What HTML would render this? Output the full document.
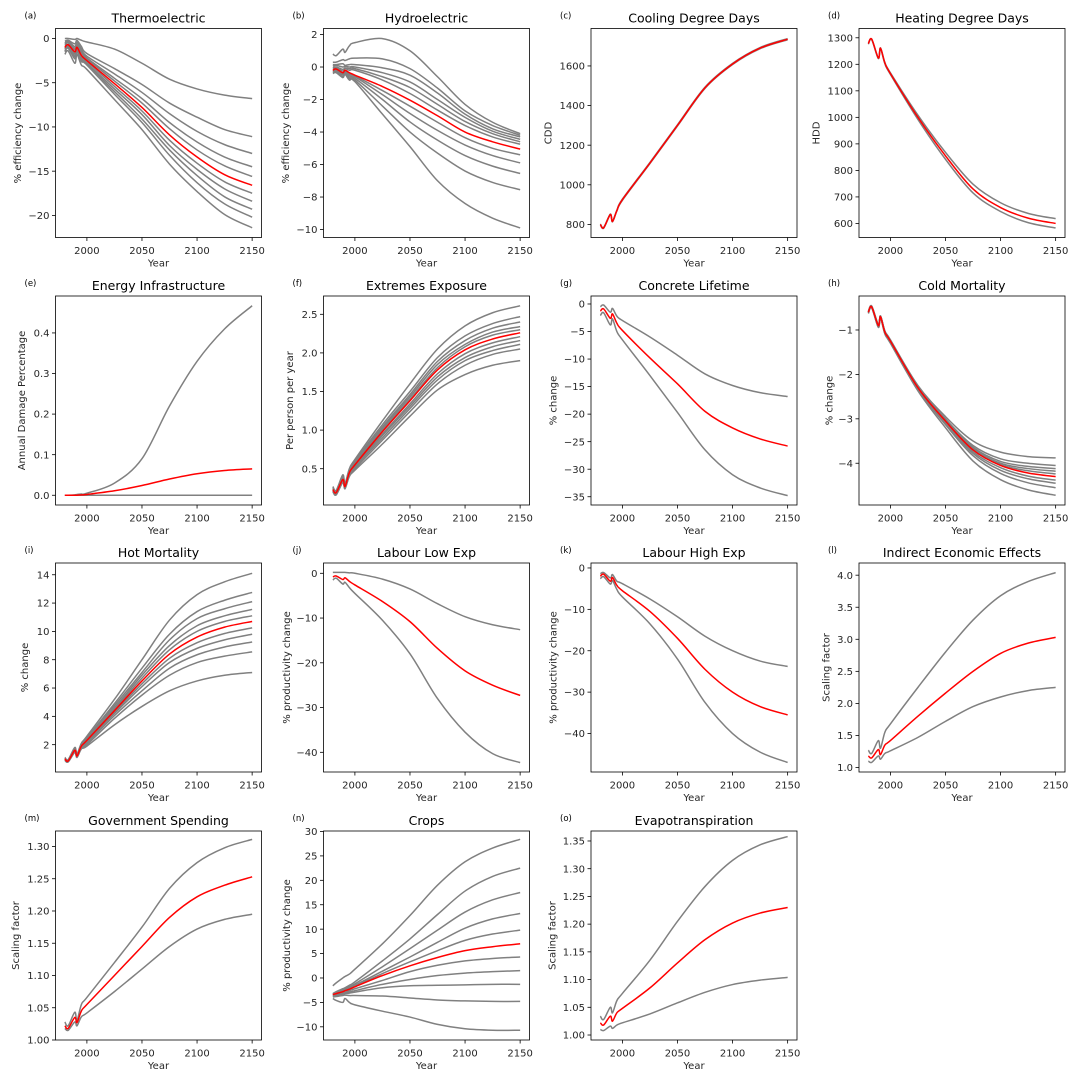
<!DOCTYPE html>
<html><head><meta charset="utf-8"><title>Climate impacts panels</title>
<style>
html,body{margin:0;padding:0;background:#fff;}
svg{display:block;font-family:"DejaVu Sans","Liberation Sans",sans-serif;}
</style></head>
<body>
<svg id="fig" width="1079" height="1079" viewBox="0 0 1079 1079" xmlns="http://www.w3.org/2000/svg">
<rect width="1079" height="1079" fill="#fff"/>
</svg>
<script>
const years = [1980,1983,1989,1991,1995,2000,2025,2050,2075,2100,2125,2150];
const xTicks = [2000,2050,2100,2150];

const a_gray = [
[0,0,-0.1,0,-0.2,-0.4,-1.2,-2.8,-4.6,-5.7,-6.4,-6.8],
[-0.3,-0.2,-0.6,-0.2,-0.9,-1.7,-3.4,-5.2,-7.3,-8.9,-10.3,-11.1],
[-0.5,-0.3,-0.9,-0.4,-1.2,-2.0,-4.0,-6.1,-8.5,-10.5,-12.0,-13.0],
[-0.6,-0.4,-1.1,-0.6,-1.4,-2.2,-4.5,-6.8,-9.5,-11.7,-13.4,-14.5],
[-0.8,-0.5,-1.3,-0.8,-1.6,-2.3,-4.8,-7.3,-10.2,-12.6,-14.4,-15.6],
[-1.1,-0.8,-1.7,-1.1,-2.0,-2.6,-5.4,-8.2,-11.5,-14.1,-16.2,-17.5],
[-1.2,-0.9,-1.9,-1.2,-2.2,-2.8,-5.7,-8.6,-12.1,-14.8,-17.0,-18.4],
[-1.4,-1.0,-2.1,-1.3,-2.4,-2.9,-6.0,-9.1,-12.6,-15.5,-17.9,-19.3],
[-1.5,-1.1,-2.3,-1.5,-2.6,-3.0,-6.3,-9.5,-13.2,-16.3,-18.7,-20.2],
[-1.8,-1.4,-2.8,-1.8,-3.0,-3.5,-6.9,-10.3,-14.2,-17.3,-19.9,-21.4]];
const a_red = [-1.0,-0.7,-1.5,-1.0,-1.9,-2.5,-5.1,-7.8,-10.9,-13.4,-15.4,-16.6];
const a_ticks = [0,-5,-10,-15,-20];

const b_gray = [
[0.8,0.7,1.1,0.9,1.3,1.5,1.75,1.0,-0.6,-2.3,-3.4,-4.1],
[0.3,0.3,0.45,0.4,0.5,0.55,0.5,-0.1,-1.3,-2.7,-3.6,-4.2],
[0.15,0.15,0.2,0.1,0.15,0.15,-0.05,-0.5,-1.6,-2.9,-3.8,-4.3],
[0.05,0.1,0.0,0.05,0.0,0.0,-0.35,-0.92,-2.0,-3.1,-3.95,-4.45],
[-0.05,0,-0.15,-0.05,-0.1,-0.1,-0.6,-1.26,-2.3,-3.35,-4.1,-4.6],
[-0.1,-0.05,-0.25,-0.1,-0.2,-0.2,-0.8,-1.63,-2.65,-3.6,-4.3,-4.75],
[-0.2,-0.15,-0.4,-0.25,-0.45,-0.55,-1.45,-2.41,-3.4,-4.35,-5.0,-5.4],
[-0.25,-0.2,-0.45,-0.3,-0.5,-0.6,-1.7,-2.86,-3.9,-4.8,-5.45,-5.9],
[-0.3,-0.25,-0.5,-0.35,-0.6,-0.7,-2.0,-3.38,-4.5,-5.45,-6.1,-6.55],
[-0.35,-0.3,-0.6,-0.4,-0.7,-0.8,-2.4,-4.0,-5.3,-6.4,-7.1,-7.55],
[-0.4,-0.35,-0.65,-0.45,-0.8,-0.9,-2.9,-4.9,-7.0,-8.4,-9.3,-9.9]];
const b_red = [-0.2,-0.12,-0.35,-0.2,-0.35,-0.5,-1.2,-2.04,-3.0,-4.0,-4.6,-5.05];
const b_ticks = [2,0,-2,-4,-6,-8,-10];

const c_gray = [
[802,785,852,817,872,928,1113,1303,1493,1613,1693,1738],
[798,781,848,813,868,922,1107,1297,1487,1607,1687,1732]];
const c_red = [800,783,850,815,870,925,1110,1300,1490,1610,1690,1735];
const c_ticks = [800,1000,1200,1400,1600];

const d_gray = [
[1278,1295,1225,1262,1207,1168,1008,868,748,678,638,618],
[1276,1293,1222,1259,1202,1162,992,842,715,645,603,583]];
const d_red = [1278,1295,1224,1261,1205,1165,1000,855,730,660,620,600];
const d_ticks = [600,700,800,900,1000,1100,1200,1300];

const e_gray = [
[0,0,0.001,0.002,0.003,0.005,0.03,0.09,0.22,0.33,0.41,0.467],
[0,0,0,0,0,0,0,0,0,0,0,0]];
const e_red = [0,0,0,0,0.001,0.002,0.011,0.024,0.04,0.053,0.061,0.065];
const e_ticks = [0.0,0.1,0.2,0.3,0.4];

const f_gray = [
[0.27,0.22,0.42,0.31,0.5,0.62,1.12,1.6,2.05,2.35,2.52,2.61],
[0.26,0.21,0.4,0.3,0.48,0.6,1.07,1.5,1.94,2.22,2.38,2.47],
[0.25,0.21,0.39,0.29,0.47,0.58,1.04,1.46,1.89,2.16,2.32,2.40],
[0.24,0.2,0.38,0.28,0.46,0.57,1.02,1.43,1.85,2.11,2.27,2.34],
[0.24,0.2,0.37,0.28,0.46,0.56,1.0,1.4,1.81,2.08,2.23,2.30],
[0.22,0.18,0.35,0.26,0.44,0.54,0.95,1.34,1.73,1.99,2.13,2.21],
[0.22,0.18,0.34,0.26,0.43,0.53,0.93,1.31,1.69,1.94,2.08,2.16],
[0.21,0.17,0.34,0.25,0.42,0.52,0.9,1.28,1.65,1.90,2.03,2.11],
[0.21,0.17,0.33,0.25,0.41,0.5,0.87,1.24,1.6,1.84,1.98,2.05],
[0.2,0.16,0.32,0.24,0.4,0.48,0.82,1.18,1.52,1.72,1.84,1.90]];
const f_red = [0.23,0.19,0.36,0.27,0.45,0.55,0.98,1.38,1.78,2.04,2.18,2.26];
const f_ticks = [0.5,1.0,1.5,2.0,2.5];

const g_gray = [
[-0.5,-0.2,-1.5,-0.8,-2.2,-3.0,-6.0,-9.3,-12.7,-14.8,-16.1,-16.8],
[-2.1,-1.6,-3.8,-2.7,-5.0,-6.5,-13.0,-19.7,-26.5,-31.0,-33.4,-34.8]];
const g_red = [-1.3,-0.9,-2.6,-1.8,-3.5,-4.8,-9.8,-14.5,-19.5,-22.5,-24.5,-25.8];
const g_ticks = [0,-5,-10,-15,-20,-25,-30,-35];

const h_gray = [
[-0.58,-0.46,-0.87,-0.68,-1.02,-1.22,-2.25,-2.95,-3.5,-3.75,-3.85,-3.88],
[-0.59,-0.47,-0.88,-0.69,-1.03,-1.23,-2.27,-3.0,-3.6,-3.9,-4.0,-4.05],
[-0.59,-0.47,-0.89,-0.69,-1.04,-1.24,-2.28,-3.02,-3.64,-3.96,-4.07,-4.12],
[-0.6,-0.48,-0.9,-0.7,-1.05,-1.25,-2.29,-3.03,-3.67,-4.0,-4.12,-4.18],
[-0.6,-0.48,-0.9,-0.7,-1.05,-1.25,-2.3,-3.04,-3.69,-4.03,-4.17,-4.24],
[-0.61,-0.49,-0.91,-0.71,-1.06,-1.26,-2.31,-3.07,-3.74,-4.1,-4.29,-4.38],
[-0.61,-0.49,-0.92,-0.71,-1.07,-1.27,-2.32,-3.1,-3.78,-4.16,-4.35,-4.45],
[-0.62,-0.5,-0.93,-0.72,-1.08,-1.28,-2.34,-3.13,-3.83,-4.23,-4.44,-4.55],
[-0.63,-0.5,-0.94,-0.73,-1.09,-1.3,-2.37,-3.2,-3.95,-4.37,-4.6,-4.72]];
const h_red = [-0.6,-0.48,-0.9,-0.7,-1.05,-1.25,-2.3,-3.05,-3.7,-4.05,-4.22,-4.3];
const h_ticks = [-1,-2,-3,-4];

const i_gray = [
[1.1,0.95,1.8,1.35,2.1,2.6,5.2,8.0,10.8,12.6,13.5,14.1],
[1.07,0.92,1.72,1.3,2.03,2.5,4.9,7.4,9.8,11.4,12.2,12.75],
[1.05,0.9,1.68,1.27,1.99,2.45,4.75,7.1,9.4,10.9,11.6,12.1],
[1.03,0.88,1.65,1.24,1.95,2.4,4.6,6.9,9.0,10.4,11.1,11.55],
[1.02,0.87,1.62,1.22,1.92,2.35,4.5,6.7,8.7,10.0,10.7,11.1],
[0.98,0.84,1.57,1.18,1.87,2.25,4.3,6.3,8.1,9.2,9.85,10.25],
[0.96,0.82,1.54,1.16,1.83,2.2,4.2,6.1,7.8,8.8,9.4,9.8],
[0.94,0.81,1.51,1.14,1.79,2.1,4.05,5.8,7.4,8.35,8.9,9.25],
[0.92,0.8,1.48,1.12,1.75,2.0,3.85,5.5,6.9,7.8,8.25,8.55],
[0.9,0.78,1.45,1.1,1.7,1.9,3.4,4.7,5.8,6.5,6.9,7.1]];
const i_red = [1.0,0.85,1.6,1.2,1.9,2.3,4.4,6.5,8.4,9.6,10.3,10.7];
const i_ticks = [2,4,6,8,10,12,14];

const j_gray = [
[0.2,0.2,0.2,0.2,0.1,0,-1.3,-3.5,-6.8,-9.7,-11.5,-12.6],
[-1.5,-1.1,-2.4,-2.0,-3.2,-4.5,-10.5,-18.0,-28.0,-35.5,-40.3,-42.3]];
const j_red = [-0.8,-0.6,-1.4,-1.0,-1.8,-2.6,-6.3,-10.8,-16.8,-21.8,-25.0,-27.3];
const j_ticks = [0,-10,-20,-30,-40];

const k_gray = [
[-1.4,-1.1,-2.4,-1.6,-3.2,-3.8,-7.5,-11.8,-16.5,-20.0,-22.5,-23.8],
[-2.6,-2.1,-3.9,-3.0,-5.2,-7.0,-13.5,-22.0,-32.5,-40.0,-44.5,-47.0]];
const k_red = [-2.0,-1.5,-3.2,-2.3,-4.2,-5.5,-10.5,-17.0,-24.5,-30.0,-33.5,-35.5];
const k_ticks = [0,-10,-20,-30,-40];

const l_gray = [
[1.27,1.22,1.42,1.3,1.55,1.68,2.25,2.8,3.3,3.68,3.9,4.04],
[1.1,1.08,1.18,1.13,1.22,1.26,1.47,1.72,1.95,2.1,2.2,2.25]];
const l_red = [1.18,1.15,1.28,1.2,1.35,1.42,1.8,2.16,2.5,2.78,2.94,3.03];
const l_ticks = [1.0,1.5,2.0,2.5,3.0,3.5,4.0];

const m_gray = [
[1.028,1.022,1.043,1.03,1.055,1.066,1.12,1.175,1.235,1.275,1.298,1.311],
[1.018,1.015,1.028,1.022,1.036,1.042,1.075,1.11,1.145,1.172,1.187,1.195]];
const m_red = [1.022,1.018,1.035,1.027,1.045,1.055,1.1,1.145,1.19,1.222,1.24,1.253];
const m_ticks = [1.00,1.05,1.10,1.15,1.20,1.25,1.30];

const n_gray = [
[-1.6,-1.0,0.0,0.3,0.8,1.8,7.0,12.8,19.0,23.8,26.6,28.4],
[-3.2,-2.8,-2.2,-2.0,-1.5,-0.8,3.5,8.0,13.0,17.8,20.8,22.5],
[-3.3,-3.0,-2.4,-2.2,-1.8,-1.2,2.3,6.0,9.8,13.5,16.0,17.5],
[-3.4,-3.1,-2.6,-2.4,-2.1,-1.5,1.4,4.3,7.3,10.2,12.1,13.2],
[-3.5,-3.2,-2.8,-2.6,-2.3,-1.7,0.9,3.3,5.6,7.7,9.0,9.8],
[-3.6,-3.4,-3.0,-2.9,-2.6,-2.2,-0.5,1.3,2.6,3.5,4.0,4.3],
[-3.7,-3.5,-3.2,-3.1,-2.9,-2.6,-1.3,-0.3,0.5,1.0,1.3,1.5],
[-3.8,-3.6,-3.3,-3.2,-3.1,-2.9,-2.0,-1.6,-1.5,-1.4,-1.3,-1.3],
[-3.9,-3.8,-3.6,-3.5,-3.6,-3.6,-3.7,-4.1,-4.5,-4.7,-4.8,-4.8],
[-4.2,-4.6,-5.0,-4.2,-5.0,-5.5,-6.8,-8.0,-9.5,-10.4,-10.7,-10.7]];
const n_red = [-3.4,-3.2,-2.8,-2.6,-2.3,-1.8,0.5,2.5,4.2,5.6,6.4,7.0];
const n_ticks = [-10,-5,0,5,10,15,20,25,30];

const o_gray = [
[1.034,1.028,1.05,1.04,1.062,1.075,1.135,1.205,1.268,1.315,1.343,1.358],
[1.01,1.008,1.016,1.012,1.018,1.022,1.038,1.058,1.077,1.091,1.099,1.104]];
const o_red = [1.022,1.018,1.034,1.025,1.04,1.048,1.085,1.13,1.172,1.202,1.22,1.23];
const o_ticks = [1.00,1.05,1.10,1.15,1.20,1.25,1.30,1.35];

const colLeft = [55.5, 323.5, 591, 859];
const rowTop = [28.5, 296, 563, 831];
const PW = 206, PH = 209;
const XMIN = 1971.5, XMAX = 2158.5;

const panels = [
 {id:'a',title:'Thermoelectric',yl:'% efficiency change',c:0,r:0,lim:[-22.5,1.13],t:a_ticks,d:0,g:a_gray,red:a_red,off:-38},
 {id:'b',title:'Hydroelectric',yl:'% efficiency change',c:1,r:0,lim:[-10.49,2.37],t:b_ticks,d:0,g:b_gray,red:b_red,off:-38},
 {id:'c',title:'Cooling Degree Days',yl:'CDD',c:2,r:0,lim:[734,1789],t:c_ticks,d:0,g:c_gray,red:c_red,off:-43},
 {id:'d',title:'Heating Degree Days',yl:'HDD',c:3,r:0,lim:[547,1335],t:d_ticks,d:0,g:d_gray,red:d_red,off:-43},
 {id:'e',title:'Energy Infrastructure',yl:'Annual Damage Percentage',c:0,r:1,lim:[-0.024,0.491],t:e_ticks,d:1,g:e_gray,red:e_red,off:-34},
 {id:'f',title:'Extremes Exposure',yl:'Per person per year',c:1,r:1,lim:[0.03,2.737],t:f_ticks,d:1,g:f_gray,red:f_red,off:-34},
 {id:'g',title:'Concrete Lifetime',yl:'% change',c:2,r:1,lim:[-36.5,1.45],t:g_ticks,d:0,g:g_gray,red:g_red,off:-38},
 {id:'h',title:'Cold Mortality',yl:'% change',c:3,r:1,lim:[-4.94,-0.235],t:h_ticks,d:0,g:h_gray,red:h_red,off:-30},
 {id:'i',title:'Hot Mortality',yl:'% change',c:0,r:2,lim:[0.07,14.83],t:i_ticks,d:0,g:i_gray,red:i_red,off:-31},
 {id:'j',title:'Labour Low Exp',yl:'% productivity change',c:1,r:2,lim:[-44.4,2.3],t:j_ticks,d:0,g:j_gray,red:j_red,off:-37},
 {id:'k',title:'Labour High Exp',yl:'% productivity change',c:2,r:2,lim:[-49.3,1.2],t:k_ticks,d:0,g:k_gray,red:k_red,off:-38},
 {id:'l',title:'Indirect Economic Effects',yl:'Scaling factor',c:3,r:2,lim:[0.93,4.19],t:l_ticks,d:1,g:l_gray,red:l_red,off:-33},
 {id:'m',title:'Government Spending',yl:'Scaling factor',c:0,r:3,lim:[1.0,1.324],t:m_ticks,d:2,g:m_gray,red:m_red,off:-40},
 {id:'n',title:'Crops',yl:'% productivity change',c:1,r:3,lim:[-12.7,30.1],t:n_ticks,d:0,g:n_gray,red:n_red,off:-37},
 {id:'o',title:'Evapotranspiration',yl:'Scaling factor',c:2,r:3,lim:[0.991,1.368],t:o_ticks,d:2,g:o_gray,red:o_red,off:-39}
];

const NS = 'http://www.w3.org/2000/svg';
const svg = document.getElementById('fig');
function mk(tag, attrs, parent){
  const e = document.createElementNS(NS, tag);
  for (const k in attrs) e.setAttribute(k, attrs[k]);
  parent.appendChild(e);
  return e;
}
function fmt(v, d){
  const s = Math.abs(v).toFixed(d);
  return (v < 0 ? '\u2212' : '') + s;
}
function pathFrom(pts){
  let d = 'M' + pts[0][0].toFixed(2) + ',' + pts[0][1].toFixed(2);
  for (let i = 0; i < pts.length - 1; i++){
    const p0 = pts[Math.max(0,i-1)], p1 = pts[i], p2 = pts[i+1], p3 = pts[Math.min(pts.length-1,i+2)];
    const c1x = p1[0] + (p2[0]-p0[0])/6, c1y = p1[1] + (p2[1]-p0[1])/6;
    const c2x = p2[0] - (p3[0]-p1[0])/6, c2y = p2[1] - (p3[1]-p1[1])/6;
    d += ' C' + c1x.toFixed(2)+','+c1y.toFixed(2)+' '+c2x.toFixed(2)+','+c2y.toFixed(2)+' '+p2[0].toFixed(2)+','+p2[1].toFixed(2);
  }
  return d;
}

panels.forEach(p => {
  const L = colLeft[p.c], T = rowTop[p.r];
  const xs = v => L + (v - XMIN) / (XMAX - XMIN) * PW;
  const ys = v => T + PH - (v - p.lim[0]) / (p.lim[1] - p.lim[0]) * PH;
  const g = mk('g', {}, svg);
  
  

  const clipId = 'clip-' + p.id;
  const cp = mk('clipPath', {id: clipId}, g);
  mk('rect', {x: L, y: T, width: PW, height: PH}, cp);

  const lines = mk('g', {'clip-path': 'url(#' + clipId + ')'}, g);
  
  
  p.g.forEach((arr, k) => {
    const pts = arr.map((v, i) => [xs(years[i]), ys(v)]);
    const pe = mk('path', {d: pathFrom(pts), fill: 'none', stroke: '#808080', 'stroke-width': 1.5, 'stroke-linejoin': 'round'}, lines);
    
    
  });
  const rpts = p.red.map((v, i) => [xs(years[i]), ys(v)]);
  const rp = mk('path', {d: pathFrom(rpts), fill: 'none', stroke: '#ff0000', 'stroke-width': 1.5, 'stroke-linejoin': 'round'}, lines);
  
  

  const fr = mk('rect', {x: L, y: T, width: PW, height: PH, fill: 'none', stroke: '#000', 'stroke-width': 0.8}, g);
  
  

  xTicks.forEach(v => {
    const x = xs(v);
    mk('line', {x1: x, x2: x, y1: T+PH, y2: T+PH+3.5, stroke: '#000', 'stroke-width': 0.8}, g);
    const tl = mk('text', {x: x, y: T+PH+16.5, 'text-anchor': 'middle', 'font-size': 10, fill: '#262626'}, g);
    tl.textContent = String(v);
    
    
  });
  p.t.forEach(v => {
    const y = ys(v);
    mk('line', {x1: L-3.5, x2: L, y1: y, y2: y, stroke: '#000', 'stroke-width': 0.8}, g);
    const tl = mk('text', {x: L-6, y: y+3.6, 'text-anchor': 'end', 'font-size': 10, fill: '#262626'}, g);
    tl.textContent = fmt(v, p.d);
    
    
  });

  const xl = mk('text', {x: L+PW/2, y: T+PH+29, 'text-anchor': 'middle', 'font-size': 10, fill: '#262626'}, g);
  xl.textContent = 'Year';
  
  

  const yx = L + p.off + 3.5, yy = T + PH/2;
  const yl = mk('text', {x: yx, y: yy, 'text-anchor': 'middle', 'font-size': 10, fill: '#262626', transform: 'rotate(-90 ' + yx + ' ' + yy + ')'}, g);
  yl.textContent = p.yl;
  
  

  const tt = mk('text', {x: L+PW/2, y: T-6, 'text-anchor': 'middle', 'font-size': 12.5, fill: '#000'}, g);
  tt.textContent = p.title;
  
  

  const lt = mk('text', {x: L-31, y: T-10, 'font-size': 8.5, fill: '#000'}, g);
  lt.textContent = '(' + p.id + ')';
  
  
});
</script>
</body></html>
